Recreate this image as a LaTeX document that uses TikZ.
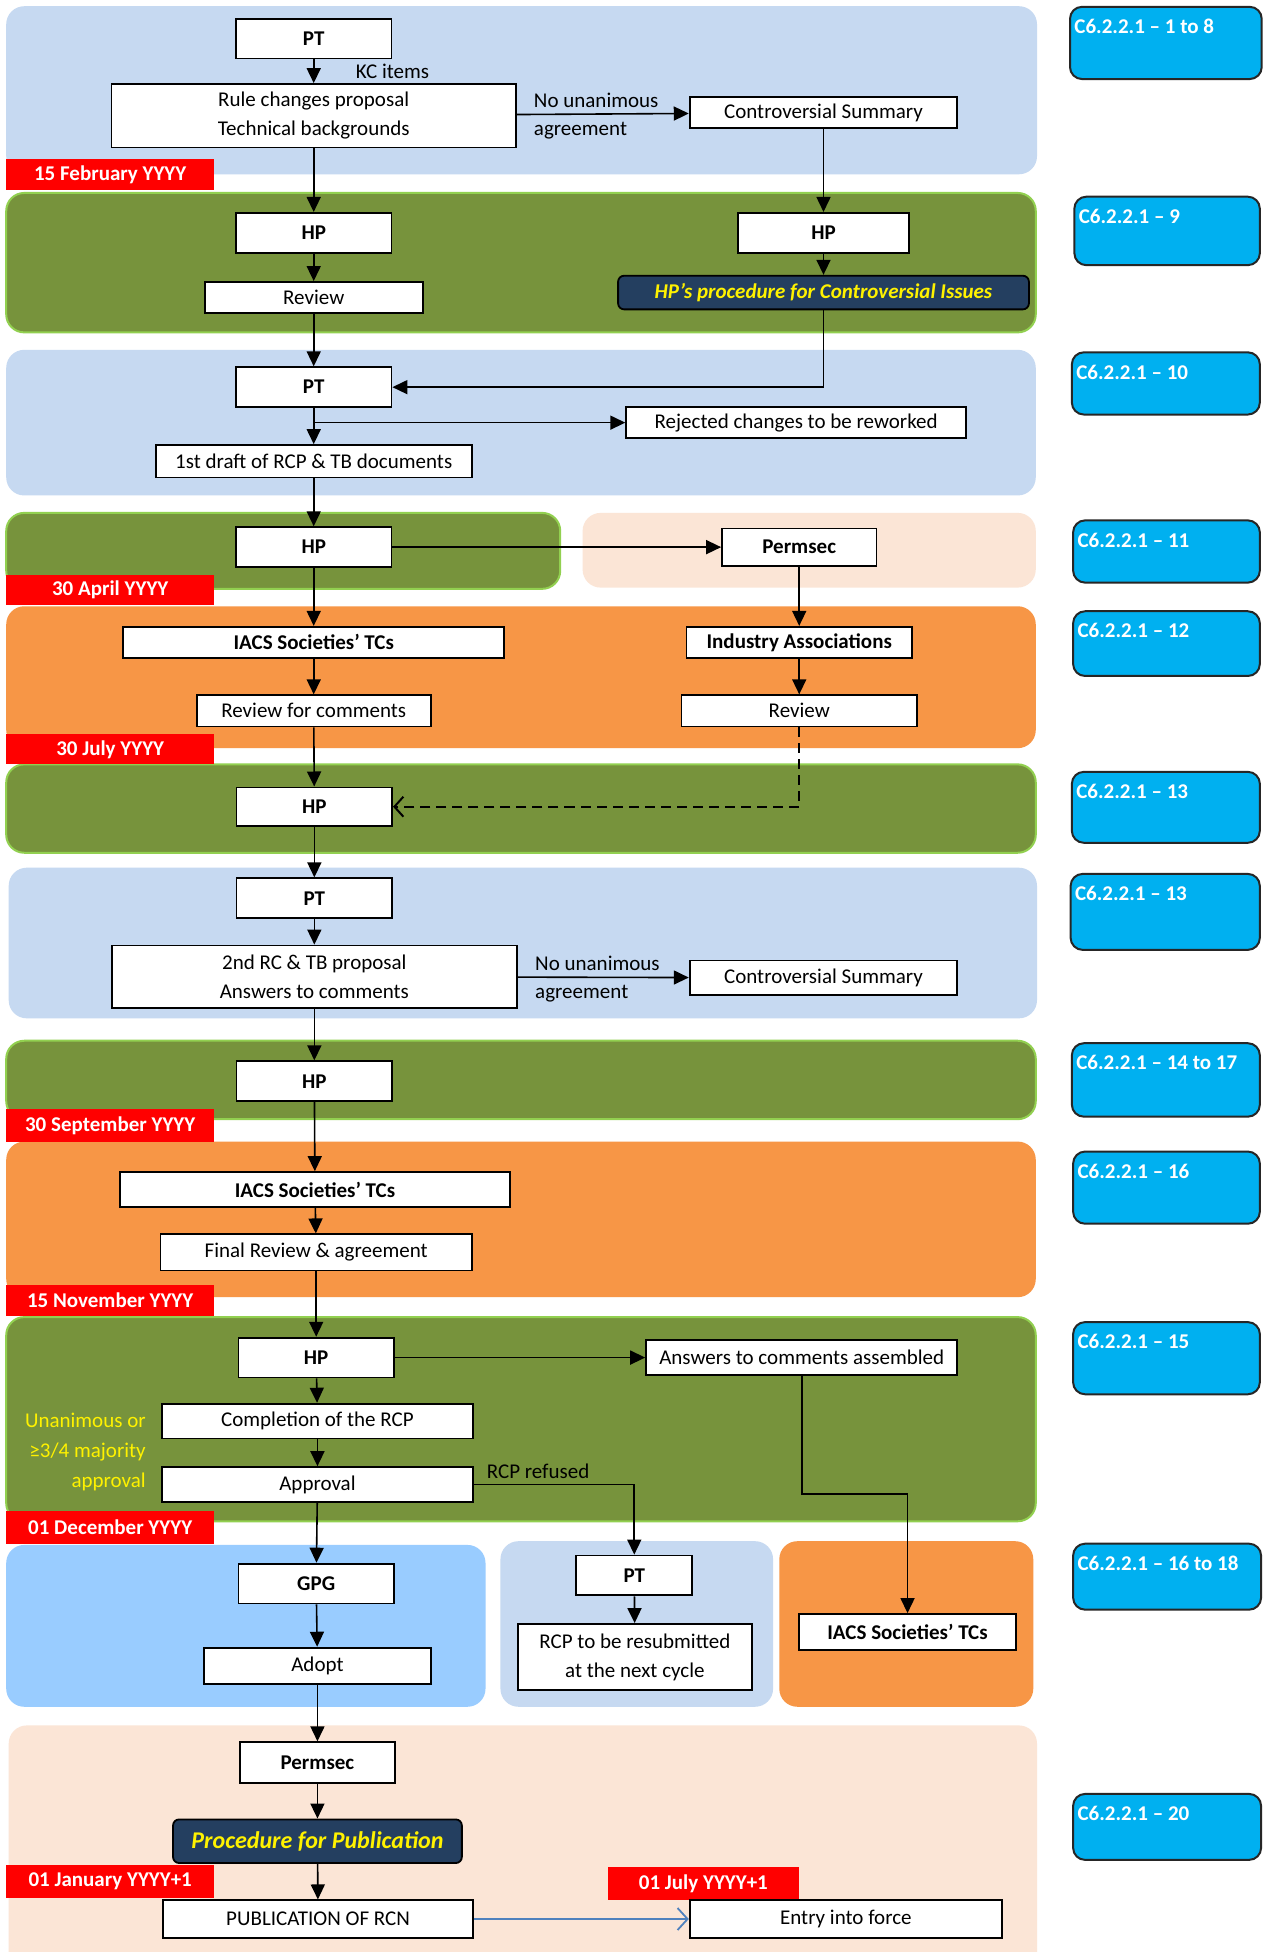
\documentclass[tikz,border=0pt]{standalone}
\usepackage{fontspec}
\setmainfont{Carlito}
\usetikzlibrary{arrows.meta}
\usetikzlibrary{positioning}

\definecolor{bandblue}{HTML}{C6D9F1}
\definecolor{bandgreen}{HTML}{77933C}
\definecolor{edgegreen}{HTML}{92D050}
\definecolor{bandorange}{HTML}{F79646}
\definecolor{bandpeach}{HTML}{FBE5D6}
\definecolor{bandsky}{HTML}{99CCFF}
\definecolor{refcyan}{HTML}{00B0F0}
\definecolor{procnavy}{HTML}{243F60}
\definecolor{linkblue}{HTML}{4F81BD}

\tikzset{
  sz/.style 2 args={minimum width=#1*0.6222pt, minimum height=#2*0.6222pt},
  box/.style={draw=black, line width=0.9pt, fill=white, inner sep=1pt, align=center,
    font=\fontsize{10.5}{14.5}\selectfont},
  bbox/.style={box, font=\fontsize{10.5}{14.5}\selectfont\bfseries},
  proc/.style={draw=black, line width=0.9pt, fill=procnavy, rounded corners=3pt, text=yellow,
    inner sep=1pt, font=\fontsize{10.5}{13}\selectfont\bfseries\itshape},
  datetag/.style={fill=red, text=white, inner sep=0pt, font=\fontsize{10.5}{13}\selectfont\bfseries},
  refbox/.style={draw=black!85, line width=1pt, fill=refcyan, rounded corners=6pt},
  reftext/.style={text=white, inner sep=0pt, xshift=2.5pt, yshift=-6.5pt,
    font=\fontsize{10.5}{13}\selectfont\bfseries},
  note/.style={inner sep=1pt, font=\fontsize{10.5}{14}\selectfont},
  arr/.style={line width=0.8pt, -{Triangle[length=7.5pt,width=7pt]}},
  dasharr/.style={line width=1pt, dash pattern=on 5pt off 3pt, -{Straight Barb[length=4.5pt,width=10pt]}},
  bluearr/.style={line width=0.9pt, linkblue, -{Straight Barb[length=5pt,width=11pt]}},
  blueband/.style={fill=bandblue, rounded corners=9pt},
  greenband/.style={fill=bandgreen, draw=edgegreen, line width=1pt, rounded corners=9pt},
  orangeband/.style={fill=bandorange, rounded corners=9pt},
  peachband/.style={fill=bandpeach, rounded corners=9pt}
}

\begin{document}
\begin{tikzpicture}[x=0.6222pt, y=-0.6222pt]
  \useasboundingbox[fill=white] (0,0) rectangle (1023,1568);

  % bands
  \path[blueband] (5,5) rectangle (833,140);
  \path[greenband] (5,155) rectangle (832,267);
  \path[blueband] (5,281) rectangle (832,398);
  \path[greenband] (5,412) rectangle (450,473);
  \path[peachband] (468,412) rectangle (832,472);
  \path[orangeband] (5,487) rectangle (832,601);
  \path[greenband] (5,614) rectangle (832,685);
  \path[blueband] (7,697) rectangle (833,818);
  \path[greenband] (5,836) rectangle (832,899);
  \path[orangeband] (5,917) rectangle (832,1042);
  \path[greenband] (5,1058) rectangle (832,1222);
  \path[fill=bandsky, rounded corners=9pt] (5,1241) rectangle (390,1371);
  \path[blueband] (402,1238) rectangle (621,1371);
  \path[orangeband] (626,1238) rectangle (830,1371);
  \path[peachband] (7,1386) rectangle (833,1590);

  % dates
  \node[datetag, sz={167}{25}] (d1) at (88.5,140.5) {15 February YYYY};
  \node[datetag, sz={167}{24}] (d2) at (88.5,474) {30 April YYYY};
  \node[datetag, sz={167}{24}] (d3) at (88.5,602) {30 July YYYY};
  \node[datetag, sz={167}{26}] (d4) at (88.5,904) {30 September YYYY};
  \node[datetag, sz={167}{25}] (d5) at (88.5,1044.5) {15 November YYYY};
  \node[datetag, sz={167}{26}] (d6) at (88.5,1227) {01 December YYYY};
  \node[datetag, sz={167}{27}] (d7) at (88.5,1511.5) {01 January YYYY+1};
  \node[datetag, sz={154}{26}] (d8) at (565,1513) {01 July YYYY+1};

  % clause references
  \node[refbox, sz={154}{58}] (r1) at (936.5,34.5) {};
  \node[reftext, anchor=north west] at (r1.north west) {C6.2.2.1 – 1 to 8};
  \node[refbox, sz={149}{55}] (r2) at (937.5,185.5) {};
  \node[reftext, anchor=north west] at (r2.north west) {C6.2.2.1 – 9};
  \node[refbox, sz={151}{50}] (r3) at (936.5,308) {};
  \node[reftext, anchor=north west] at (r3.north west) {C6.2.2.1 – 10};
  \node[refbox, sz={150}{50}] (r4) at (937,443) {};
  \node[reftext, anchor=north west] at (r4.north west) {C6.2.2.1 – 11};
  \node[refbox, sz={150}{52}] (r5) at (937,517) {};
  \node[reftext, anchor=north west] at (r5.north west) {C6.2.2.1 – 12};
  \node[refbox, sz={151}{57}] (r6) at (936.5,648.5) {};
  \node[reftext, anchor=north west] at (r6.north west) {C6.2.2.1 – 13};
  \node[refbox, sz={152}{61}] (r7) at (936,732.5) {};
  \node[reftext, anchor=north west] at (r7.north west) {C6.2.2.1 – 13};
  \node[refbox, sz={151}{59}] (r8) at (936.5,867.5) {};
  \node[reftext, anchor=north west] at (r8.north west) {C6.2.2.1 – 14 to 17};
  \node[refbox, sz={150}{58}] (r9) at (937,954) {};
  \node[reftext, anchor=north west] at (r9.north west) {C6.2.2.1 – 16};
  \node[refbox, sz={150}{58}] (r10) at (937,1091) {};
  \node[reftext, anchor=north west] at (r10.north west) {C6.2.2.1 – 15};
  \node[refbox, sz={151}{53}] (r11) at (937.5,1266.5) {};
  \node[reftext, anchor=north west] at (r11.north west) {C6.2.2.1 – 16 to 18};
  \node[refbox, sz={151}{53}] (r12) at (937.5,1467.5) {};
  \node[reftext, anchor=north west] at (r12.north west) {C6.2.2.1 – 20};

  % steps
  \node[bbox, sz={125}{32}] (pt1) at (252,31) {PT};
  \node[box, sz={325}{51}] (rcp1) at (252,93) {Rule changes proposal\\Technical backgrounds};
  \node[box, sz={215}{25}] (cs1) at (661.5,90.5) {Controversial Summary};
  \node[bbox, sz={125}{32}] (hp1) at (252,187) {HP};
  \node[box, sz={175}{25}] (rev1) at (252,239) {Review};
  \node[bbox, sz={137}{32}] (hp2) at (661.5,187) {HP};
  \node[proc, sz={330}{27}] (hpproc) at (661.5,235) {HP’s procedure for Controversial Issues};
  \node[bbox, sz={125}{32}] (pt2) at (252,311) {PT};
  \node[box, sz={273}{25}] (rej) at (639.5,339.5) {Rejected changes to be reworked};
  \node[box, sz={254}{26}] (draft1) at (252,370.5) {1st draft of RCP \& TB documents};
  \node[bbox, sz={125}{32}] (hp3) at (252,439.5) {HP};
  \node[bbox, sz={124}{30}] (perm1) at (642,439.5) {Permsec};
  \node[bbox, sz={306}{25}] (iacs1) at (252,516) {IACS Societies’ TCs};
  \node[bbox, sz={181}{25}] (ind) at (642,516) {Industry Associations};
  \node[box, sz={188}{25}] (revcom) at (252,571) {Review for comments};
  \node[box, sz={189}{25}] (rev2) at (642,571) {Review};
  \node[bbox, sz={125}{31}] (hp4) at (252.5,648) {HP};
  \node[bbox, sz={125}{32}] (pt3) at (252.5,721.5) {PT};
  \node[box, sz={325}{50}] (rc2) at (252.5,784.5) {2nd RC \& TB proposal\\Answers to comments};
  \node[box, sz={215}{28}] (cs2) at (661.5,785.5) {Controversial Summary};
  \node[bbox, sz={125}{32}] (hp5) at (252.5,868.5) {HP};
  \node[bbox, sz={313}{28}] (iacs2) at (253,955.5) {IACS Societies’ TCs};
  \node[box, sz={250}{29}] (final) at (254,1006) {Final Review \& agreement};
  \node[bbox, sz={125}{32}] (hp6) at (254,1090.5) {HP};
  \node[box, sz={250}{28}] (ans) at (644,1090.5) {Answers to comments assembled};
  \node[box, sz={250}{28}] (compl) at (255,1141.5) {Completion of the RCP};
  \node[box, sz={250}{28}] (appr) at (255,1192.5) {Approval};
  \node[bbox, sz={125}{32}] (gpg) at (254,1272) {GPG};
  \node[box, sz={182}{29}] (adopt) at (255,1338) {Adopt};
  \node[bbox, sz={93}{32}] (pt4) at (509.5,1265.5) {PT};
  \node[box, sz={188}{53}] (resub) at (510,1331) {RCP to be resubmitted\\at the next cycle};
  \node[bbox, sz={174}{29}] (iacs3) at (729,1311) {IACS Societies’ TCs};
  \node[bbox, sz={124}{33}] (perm2) at (255,1416) {Permsec};
  \node[proc, sz={232}{35}, font=\fontsize{12}{14}\selectfont\bfseries\itshape] (pubproc) at (255,1479) {Procedure for Publication};
  \node[box, sz={249}{30}] (pub) at (255.5,1541.5) {PUBLICATION OF RCN};
  \node[box, sz={251}{30}] (entry) at (679.5,1541.5) {Entry into force};

  % side texts
  \node[note, anchor=west] (kc) at (284,57) {KC items};
  \node[note, anchor=west, align=left] (nu1) at (427,93) {No unanimous\\agreement};
  \node[note, anchor=west, align=left] (nu2) at (428,786.5) {No unanimous\\agreement};
  \node[note, anchor=east, align=right, text=yellow, font=\fontsize{10.5}{15}\selectfont] (vote) at (119,1166) {Unanimous or\\≥3/4 majority\\approval};

  % flow
  \draw[arr] (pt1) -- (rcp1);
  \draw[arr] (rcp1) -- (cs1);
  \draw[arr] (rcp1) -- (hp1);
  \draw[arr] (cs1) -- (hp2);
  \draw[arr] (hp1) -- (rev1);
  \draw[arr] (hp2) -- (hpproc);
  \draw[arr] (rev1) -- (pt2);
  \draw[arr] (hpproc.south) |- (pt2.east);
  \draw[arr] (pt2) -- (draft1);
  \draw[arr] (pt2.south |- rej.west) -- (rej.west);
  \draw[arr] (draft1) -- (hp3);
  \draw[arr] (hp3) -- (perm1);
  \draw[arr] (hp3) -- (iacs1);
  \draw[arr] (perm1) -- (ind);
  \draw[arr] (iacs1) -- (revcom);
  \draw[arr] (ind) -- (rev2);
  \draw[arr] (revcom) -- (hp4);
  \draw[dasharr] (rev2.south) |- (hp4.east);
  \draw[arr] (hp4) -- (pt3);
  \draw[arr] (pt3) -- (rc2);
  \draw[arr] (rc2) -- (cs2);
  \draw[arr] (rc2) -- (hp5);
  \draw[arr] (hp5) -- (iacs2);
  \draw[arr] (iacs2) -- (final);
  \draw[arr] (final) -- (hp6);
  \draw[arr] (hp6) -- (ans);
  \draw[arr] (hp6) -- (compl);
  \draw[arr] (compl) -- (appr);
  \draw[arr] (appr.east) -| node[note, pos=0.2, above=1.5pt] (refused) {RCP refused} (pt4.north);
  \draw[arr] (ans.south) -- ++(0,95) -| (iacs3.north);
  \draw[arr] (appr) -- (gpg);
  \draw[arr] (gpg) -- (adopt);
  \draw[arr] (pt4) -- (resub);
  \draw[arr] (adopt) -- (perm2);
  \draw[arr] (perm2) -- (pubproc);
  \draw[arr] (pubproc) -- (pub);
  \draw[bluearr] (pub) -- (entry);
\end{tikzpicture}
\end{document}
